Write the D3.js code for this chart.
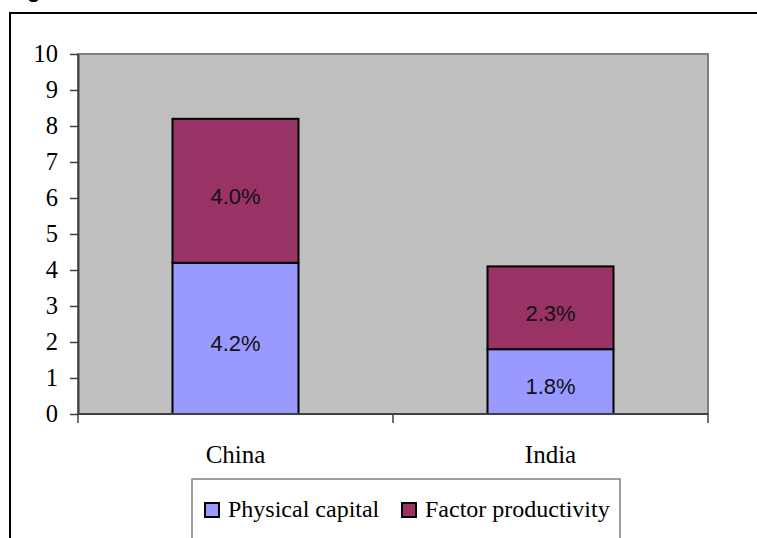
<!DOCTYPE html>
<html>
<head>
<meta charset="utf-8">
<script src="https://cdn.jsdelivr.net/npm/d3@7"></script>
<style>
  body { margin: 0; background: #fff; }
  svg { display: block; }
</style>
</head>
<body>
<div id="chart"></div>
<script>
// data
const countries = ["China", "India"];
const physicalCapital = [4.2, 1.8];
const factorProductivity = [4.0, 2.3];
const physLabels = ["4.2%", "1.8%"];
const factorLabels = ["4.0%", "2.3%"];
const yTicks = [0, 1, 2, 3, 4, 5, 6, 7, 8, 9, 10];
const seriesNames = ["Physical capital", "Factor productivity"];
const seriesColors = ["#9999ff", "#993366"];

const width = 757, height = 538;
const plot = { left: 78, right: 708, top: 54, bottom: 414 };

const svg = d3.select("#chart").append("svg")
  .attr("width", width)
  .attr("height", height);

// outer chart frame, running past the right and bottom edge of the picture
svg.append("rect")
  .attr("x", 10).attr("y", 13)
  .attr("width", width + 20).attr("height", height + 20)
  .attr("fill", "white")
  .attr("stroke", "black")
  .attr("stroke-width", 2);

// bit of a cut off title above the frame
svg.append("text")
  .attr("x", 27).attr("y", -3)
  .attr("font-family", "Liberation Sans, Arial, sans-serif")
  .attr("font-weight", "bold")
  .attr("font-size", 22)
  .text("g");

let x = d3.scaleBand()
  .domain(countries)
  .range([plot.left, plot.right])
  .padding(0);

let y = d3.scaleLinear()
  .domain([0, 10])
  .range([plot.bottom, plot.top]);

// grey plot area
svg.append("rect")
  .attr("x", plot.left).attr("y", plot.top)
  .attr("width", plot.right - plot.left)
  .attr("height", plot.bottom - plot.top)
  .attr("fill", "#c0c0c0")
  .attr("stroke", "#808080")
  .attr("stroke-width", 2);

// stack the two series
let rows = countries.map((c, i) => ({ country: c, phys: physicalCapital[i], factor: factorProductivity[i] }));
let stacked = d3.stack().keys(["phys", "factor"])(rows);
let labels = [physLabels, factorLabels];

let barW = x.bandwidth() * 0.4;

stacked.forEach(function(layer, k) {
  let g = svg.append("g");
  g.selectAll("rect")
    .data(layer)
    .join("rect")
    .attr("x", d => x(d.data.country) + (x.bandwidth() - barW) / 2)
    .attr("y", d => y(d[1]))
    .attr("width", barW)
    .attr("height", d => y(d[0]) - y(d[1]))
    .attr("fill", seriesColors[k])
    .attr("stroke", "black")
    .attr("stroke-width", 2);

  g.selectAll("text")
    .data(layer)
    .join("text")
    .attr("x", d => x(d.data.country) + x.bandwidth() / 2)
    .attr("y", d => (y(d[0]) + y(d[1])) / 2 + 5)
    .attr("dy", "0.35em")
    .attr("text-anchor", "middle")
    .attr("font-family", "Liberation Sans, Arial, sans-serif")
    .attr("font-size", 22)
    .attr("fill", "#111")
    .text((d, i) => labels[k][i]);
});

// y axis
let yAxis = svg.append("g")
  .attr("transform", `translate(${plot.left},0)`)
  .call(d3.axisLeft(y).tickValues(yTicks).tickSize(8).tickPadding(12).tickSizeOuter(0));
yAxis.select(".domain").attr("stroke", "#404040").attr("stroke-width", 2);
yAxis.selectAll(".tick line").attr("stroke", "#404040").attr("stroke-width", 1.5);
yAxis.selectAll(".tick text")
  .attr("font-family", "Liberation Serif, Times New Roman, serif")
  .attr("font-size", 24.5)
  .attr("fill", "black");

// x axis: baseline with ticks between the categories
let xAxisG = svg.append("g");
xAxisG.append("line")
  .attr("x1", plot.left).attr("x2", plot.right)
  .attr("y1", y(0)).attr("y2", y(0))
  .attr("stroke", "#404040").attr("stroke-width", 2);
let boundaries = countries.map(c => x(c)).concat([x(countries[countries.length - 1]) + x.bandwidth()]);
xAxisG.selectAll("line.tick")
  .data(boundaries)
  .join("line")
  .attr("class", "tick")
  .attr("x1", d => d).attr("x2", d => d)
  .attr("y1", y(0)).attr("y2", y(0) + 9)
  .attr("stroke", "#404040").attr("stroke-width", 1.5);
xAxisG.selectAll("text")
  .data(countries)
  .join("text")
  .attr("x", d => x(d) + x.bandwidth() / 2)
  .attr("y", y(0) + 49)
  .attr("text-anchor", "middle")
  .attr("font-family", "Liberation Serif, Times New Roman, serif")
  .attr("font-size", 25)
  .attr("fill", "black")
  .text(d => d);

// legend
let legend = svg.append("g");
legend.append("rect")
  .attr("x", 192).attr("y", 479)
  .attr("width", 428).attr("height", 80)
  .attr("fill", "white")
  .attr("stroke", "#808080")
  .attr("stroke-width", 1.5);
let itemX = [205, 402];
let items = legend.selectAll("g.item")
  .data(seriesNames)
  .join("g")
  .attr("class", "item")
  .attr("transform", (d, i) => `translate(${itemX[i]},503)`);
items.append("rect")
  .attr("width", 14).attr("height", 14)
  .attr("fill", (d, i) => seriesColors[i])
  .attr("stroke", "black")
  .attr("stroke-width", 2);
items.append("text")
  .attr("x", 23).attr("y", 14)
  .attr("font-family", "Liberation Serif, Times New Roman, serif")
  .attr("font-size", 24)
  .attr("fill", "black")
  .text(d => d);
</script>
</body>
</html>
